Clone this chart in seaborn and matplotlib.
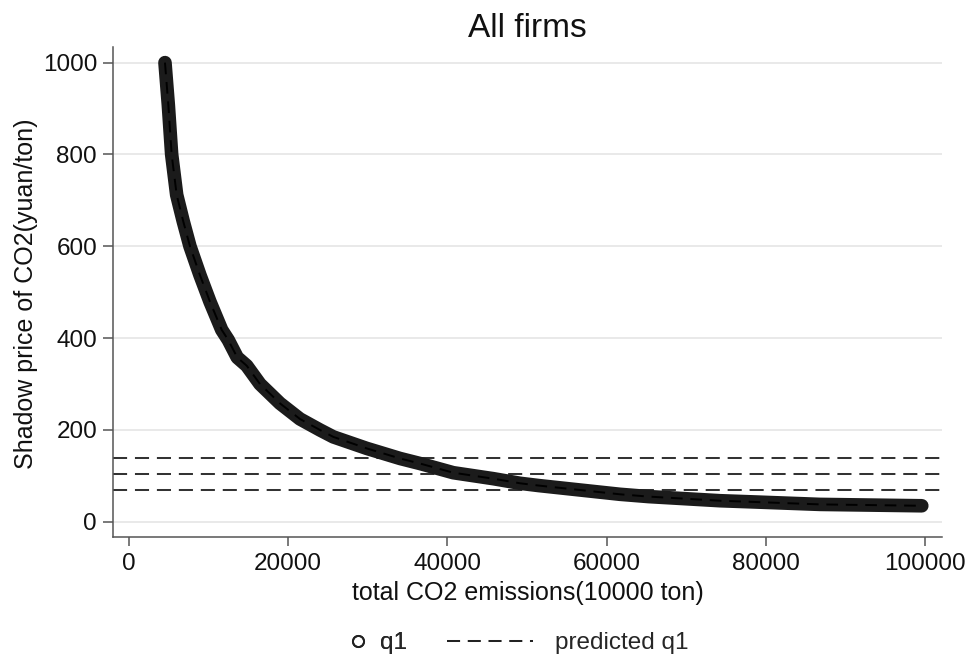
import matplotlib
matplotlib.use("Agg")
import matplotlib.pyplot as plt
from matplotlib.lines import Line2D
import numpy as np
import pandas as pd
import seaborn as sns

# ---- data ----
emissions = [4520, 4940, 5360, 5990, 6820, 7660, 8920, 10180, 11650, 12470,
             13600, 14790, 16460, 18970, 21480, 24000, 25670, 29860, 34050,
             36560, 40740, 45770, 49120, 51480, 61680, 65280, 74250, 79060,
             86810, 99600]
shadow_price = [1000, 908, 800, 712, 654, 600, 537, 479, 418, 396,
                358, 340, 300, 258, 224, 200, 185, 160, 138,
                127, 107, 94, 84, 79, 60, 55, 46, 43,
                38, 35]
predicted_levels = [139, 104, 69]
x_ticks = [0, 20000, 40000, 60000, 80000, 100000]
y_ticks = [0, 200, 400, 600, 800, 1000]
title_text = "All firms"
x_label = "total CO2 emissions(10000 ton)"
y_label = "Shadow price of CO2(yuan/ton)"
legend_labels = ["q1", "predicted q1"]

sns.set_theme(style="white")
plt.rcParams["font.family"] = ["Liberation Sans", "DejaVu Sans"]

W, H = 975, 662
fig = plt.figure(figsize=(W / 100, H / 100), dpi=100)
ax = fig.add_axes([113 / W, 1 - 537 / H, (942 - 113) / W, (537 - 47) / H])

df = pd.DataFrame({"emissions": emissions, "price": shadow_price})

for lvl in predicted_levels:
    ax.axhline(lvl, color="#333333", lw=1.45, linestyle=(0, (7, 3.9)), zorder=2)

sns.lineplot(data=df, x="emissions", y="price", ax=ax, color="#1b1b1b", lw=9.8,
             solid_capstyle="round", solid_joinstyle="round", zorder=3)
sns.lineplot(data=df, x="emissions", y="price", ax=ax, color="#000000", lw=1.4,
             linestyle=(0, (6, 4)), zorder=4)

ax.set_xlim(-2010, 102140)
ax.set_ylim(-33, 1034)
ax.set_xticks(x_ticks)
ax.set_xticklabels([str(t) for t in x_ticks])
ax.set_yticks(y_ticks)
ax.set_yticklabels([str(t) for t in y_ticks])
ax.set_xlabel("")
ax.set_ylabel("")

ax.set_axisbelow(True)
ax.yaxis.grid(True, color="#e3e3e3", lw=1.1)
ax.xaxis.grid(False)
for s in ["top", "right"]:
    ax.spines[s].set_visible(False)
for s in ["left", "bottom"]:
    ax.spines[s].set_color("#555555")
    ax.spines[s].set_linewidth(1.1)

ax.tick_params(axis="y", direction="out", length=7.2, width=1.1, color="#555555",
               labelsize=17.5, pad=4.3, labelcolor="#111111", left=True)
ax.tick_params(axis="x", direction="out", length=6.5, width=1.1, color="#555555",
               labelsize=17.5, pad=5, labelcolor="#111111", bottom=True)

fig.text(527.5 / W, 1 - 37 / H, title_text, fontsize=24, ha="center", va="baseline",
         color="#111111")
fig.text(528 / W, 1 - 600 / H, x_label, fontsize=18, ha="center", va="baseline",
         color="#111111")
fig.text(33 / W, 1 - 293.5 / H, y_label, fontsize=18, ha="center", va="baseline",
         rotation=90, rotation_mode="anchor", color="#111111")

h1 = Line2D([], [], marker="o", ls="none", mfc="none", mec="#222222", mew=1.4, ms=8)
h2 = Line2D([], [], color="#222222", lw=1.45, linestyle=(0, (6.5, 3.8)))
leg1 = fig.legend([h1], [legend_labels[0]], loc="center left",
                  bbox_to_anchor=(345.5 / W, 1 - 643 / H), frameon=False,
                  fontsize=17.5, handlelength=1.0, handletextpad=0.43,
                  borderpad=0, borderaxespad=0)
fig.add_artist(leg1)
leg2 = fig.legend([h2], [legend_labels[1]], loc="center left",
                  bbox_to_anchor=(447 / W, 1 - 643 / H), frameon=False,
                  fontsize=17.5, handlelength=3.54, handletextpad=0.9,
                  borderpad=0, borderaxespad=0)

fig.savefig("out.png", dpi=100)
